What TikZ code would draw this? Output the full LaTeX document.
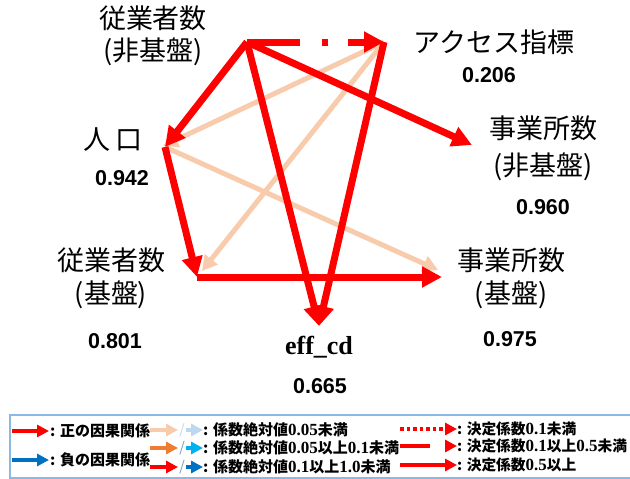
\documentclass[tikz,border=0pt]{standalone}
\usepackage{fontspec}
\usetikzlibrary{arrows.meta}
\setmainfont{Liberation Serif}
\newfontfamily\jp{Noto Sans CJK JP}
\newfontfamily\numf{Liberation Sans}
\newfontfamily\tnr{Liberation Serif}
\definecolor{lightor}{RGB}{248,203,173}
\definecolor{midor}{RGB}{237,125,49}
\definecolor{lightbl}{RGB}{189,215,238}
\definecolor{cyanbl}{RGB}{0,176,240}
\definecolor{darkbl}{RGB}{0,112,192}
\definecolor{slashbl}{RGB}{120,150,190}
\definecolor{boxbl}{RGB}{140,185,225}
\tikzset{
  strongarrow/.style={draw=red, line width=7pt, -{Triangle[length=20pt,width=20pt]}},
  weakarrow/.style={draw=lightor, line width=5pt, -{Triangle[length=15pt,width=16pt]}},
  lbl/.style={font=\jp\fontsize{27}{32}\selectfont, align=center, inner sep=0pt},
  numl/.style={font=\numf\bfseries\fontsize{21.5}{24}\selectfont, inner sep=0pt},
  legt/.style={font=\jp\bfseries\fontsize{15}{17}\selectfont, inner sep=0pt, anchor=west},
  legtr/.style={font=\jp\bfseries\fontsize{14.7}{17}\selectfont, inner sep=0pt, anchor=west},
  legar/.style={line width=4pt, -{Triangle[length=12pt,width=12pt]}},
  slash/.style={font=\jp\fontsize{14}{15}\selectfont, inner sep=0pt},
}
\newcommand{\dg}[1]{{\tnr\bfseries\fontsize{17}{17}\selectfont #1}}
\begin{document}
\begin{tikzpicture}[x=1pt,y=-1pt]
\useasboundingbox (0,0) rectangle (630,479);
% anchor points
\coordinate (S) at (247,42);
\coordinate (A) at (384,42);
\coordinate (P) at (165,147);
\coordinate (Pw) at (163,146);
\coordinate (E) at (197,277);
\coordinate (Ew) at (202,271);
\coordinate (B1) at (472,145);
\coordinate (B2) at (442,277);
\coordinate (B2w) at (438,270);
\coordinate (F) at (319,326);
% labels
\node[lbl] (tS) at (153,36) {従業者数\\(非基盤)};
\node[lbl] (tA) at (494,42) {アクセス指標};
\node[numl] (nA) at (489,75) {0.206};
\node[lbl] (tP) at (113,140) {人\hspace{0.2em}口};
\node[numl] (nP) at (122,178) {0.942};
\node[lbl, font=\jp\fontsize{27}{37}\selectfont] (tB1) at (543,148) {事業所数\\(非基盤)};
\node[numl] (nB1) at (543,207) {0.960};
\node[lbl, font=\jp\fontsize{27}{33}\selectfont] (tE) at (111,278) {従業者数\\(基盤)};
\node[numl] (nE) at (115,341) {0.801};
\node[lbl, font=\jp\fontsize{27}{33}\selectfont] (tB2) at (511,278) {事業所数\\(基盤)};
\node[numl] (nB2) at (510,339) {0.975};
\node[font=\tnr\bfseries\fontsize{26}{28}\selectfont, inner sep=0pt] (tF) at (319,347) {eff\_cd};
\node[numl] (nF) at (320,386) {0.665};
% weak connectors
\draw[weakarrow] (A) -- (Pw);
\draw[weakarrow] (A) -- (Ew);
\draw[weakarrow] (P) -- (B2w);
% strong connectors
\draw[strongarrow, dash pattern=on 53pt off 22pt on 6pt off 20pt on 40pt] (S) -- (A);
\draw[strongarrow] (S) -- (P);
\draw[strongarrow] (S) -- (B1);
\draw[strongarrow] (S) -- (F);
\draw[strongarrow] (A) -- (F);
\draw[strongarrow] (P) -- (E);
\draw[strongarrow] (E) -- (B2);
% legend
\draw[boxbl, line width=1.5pt] (10,415) rectangle (640,478);
\draw[legar, red] (12,431) -- ++(37,0);
\node[legt] at (50,431) {: 正の因果関係};
\draw[legar, darkbl] (12,460) -- ++(37,0);
\node[legt] at (50,460) {: 負の因果関係};
% middle column
\draw[legar, lightor] (150,430) -- ++(28,0);
\node[slash, text=lightbl] at (182,430) {/};
\draw[legar, lightbl] (186,430) -- ++(17,0);
\node[legt] at (203,430) {: 係数絶対値\dg{0.05}未満};
\draw[legar, midor] (150,448) -- ++(28,0);
\node[slash, text=slashbl] at (182,448) {/};
\draw[legar, cyanbl] (186,448) -- ++(17,0);
\node[legt] at (203,448) {: 係数絶対値\dg{0.05}以上\dg{0.1}未満};
\draw[legar, red] (150,467) -- ++(28,0);
\node[slash, text=slashbl] at (182,467) {/};
\draw[legar, darkbl] (186,467) -- ++(17,0);
\node[legt] at (203,467) {: 係数絶対値\dg{0.1}以上\dg{1.0}未満};
% right column
\draw[legar, red, dash pattern=on 3.5pt off 3pt] (400,429) -- ++(57,0);
\node[legtr] at (457,429) {: 決定係数\dg{0.1}未満};
\draw[legar, red, dash pattern=on 30pt off 20pt] (400,446) -- ++(57,0);
\node[legtr] at (457,446) {: 決定係数\dg{0.1}以上\dg{0.5}未満};
\draw[legar, red] (400,465) -- ++(57,0);
\node[legtr] at (457,465) {: 決定係数\dg{0.5}以上};
\end{tikzpicture}
\end{document}
